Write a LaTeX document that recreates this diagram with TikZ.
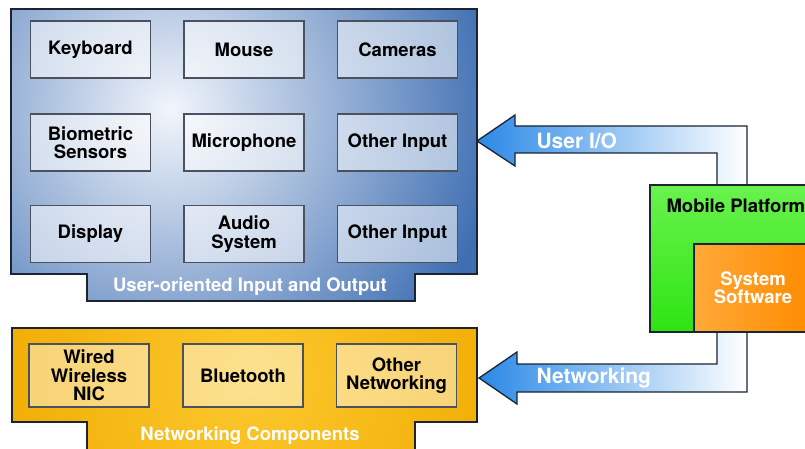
\documentclass[tikz,border=0pt]{standalone}
\usepackage{fontspec}
\setmainfont{TeX Gyre Heros}
\usetikzlibrary{positioning}

\definecolor{edge}{HTML}{1A2433}
\definecolor{boxedge}{HTML}{4A5260}
\definecolor{blueout}{HTML}{3F6FB2}
\definecolor{bluein}{HTML}{F2F5FB}
\definecolor{goldout}{HTML}{F0AA00}
\definecolor{goldin}{HTML}{FCC82E}
\definecolor{greenlt}{HTML}{6AF24E}
\definecolor{greendk}{HTML}{2EE412}
\definecolor{sysorange}{HTML}{FF8C00}
\definecolor{sysorangelt}{HTML}{FFA838}
\definecolor{arrowblue}{HTML}{2A88E6}

\tikzset{
  lbl/.style={font=\fontsize{18.5}{18.5}\selectfont\bfseries, align=center},
  item/.style={lbl, draw=boxedge, line width=1.3pt, fill=white,
    fill opacity=0.55, text opacity=1, minimum width=120pt, inner sep=0pt},
  blueitem/.style={item, minimum height=57pt},
  golditem/.style={item, minimum height=63pt, fill=white, fill opacity=0.45},
  tabtext/.style={lbl, text=white},
  arrowtext/.style={font=\fontsize{21}{21}\selectfont\bfseries, text=white, anchor=west},
  panel/.style={draw=edge, line width=1.8pt, line join=miter},
  bigarrow/.style={draw=edge, line width=1.3pt, line join=miter,
    left color=arrowblue, right color=white}
}

\begin{document}
\begin{tikzpicture}[x=1pt, y=-1pt]
\useasboundingbox (0,0) rectangle (805,449);
\clip (0,0) rectangle (805,449);
\fill[white] (0,0) rectangle (805,449);

% user-oriented I/O panel with its label tab
\def\bluepanel{(11,9) -- (477,9) -- (477,274) -- (415,274) -- (415,301)
  -- (87,301) -- (87,274) -- (11,274) -- cycle}
\fill[blueout] \bluepanel;
\begin{scope}
  \clip \bluepanel;
  \shade[inner color=bluein, outer color=blueout] (170,110) circle (330);
\end{scope}
\draw[panel] \bluepanel;

% networking components panel with its label tab
\def\goldpanel{(12,328) -- (477,328) -- (477,422) -- (415,422) -- (415,455)
  -- (87,455) -- (87,422) -- (12,422) -- cycle}
\fill[goldout] \goldpanel;
\begin{scope}
  \clip \goldpanel;
  \shade[inner color=goldin, outer color=goldout] (250,380) circle (280);
\end{scope}
\draw[panel] \goldpanel;

% bent arrows leaving the mobile platform
\shade[bigarrow] (477,141) -- (515,115) -- (515,126) -- (747,126) -- (747,190)
  -- (717,190) -- (717,153) -- (515,153) -- (515,166) -- cycle;
\shade[bigarrow] (479,378) -- (517,352) -- (517,364) -- (717,364) -- (717,328)
  -- (747,328) -- (747,392) -- (517,392) -- (517,404) -- cycle;

% mobile platform and its system software
\shade[top color=greenlt, bottom color=greendk, draw=edge, line width=1.5pt]
  (650,185) rectangle (812,332);
\shade[left color=sysorangelt, right color=sysorange, draw=edge, line width=1.3pt]
  (694,244) rectangle (812,332);

\node[lbl, anchor=west] (mobile) at (663,206) {Mobile Platform};
\node[lbl, text=white] (syssw) at (753,288) {System\\Software};

\node[arrowtext] (userio) at (533,141) {User I/O};
\node[arrowtext] (netlbl) at (533,378) {Networking};

% user input and output devices
\node[blueitem] (keyboard) at (90.5,49.5) {Keyboard};
\node[blueitem] (mouse) at (244,49.5) {Mouse};
\node[blueitem] (cameras) at (397.5,49.5) {Cameras};
\node[blueitem] (biometric) at (90.5,142.5) {Biometric\\Sensors};
\node[blueitem] (microphone) at (244,142.5) {Microphone};
\node[blueitem] (otherin1) at (397.5,142.5) {Other Input};
\node[blueitem] (display) at (90.5,234) {Display};
\node[blueitem] (audio) at (244,234) {Audio\\System};
\node[blueitem] (otherin2) at (397.5,234) {Other Input};
\node[tabtext] (uiolbl) at (250,287) {User-oriented Input and Output};

% networking devices
\node[golditem] (nic) at (89,375.5) {Wired\\Wireless\\NIC};
\node[golditem] (bluetooth) at (243,375.5) {Bluetooth};
\node[golditem] (othernet) at (396.5,375.5) {Other\\Networking};
\node[tabtext] (netcomp) at (250,436) {Networking Components};
\end{tikzpicture}
\end{document}
